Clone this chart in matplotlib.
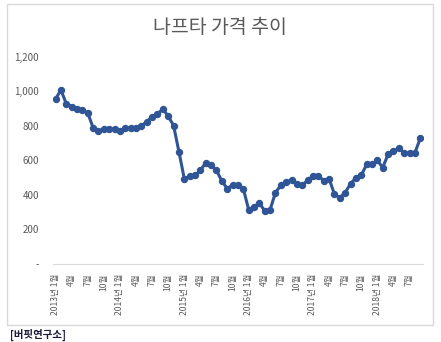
import matplotlib.pyplot as plt
from matplotlib.patches import Rectangle

plt.rcParams['font.family'] = ['Noto Sans CJK KR', 'DejaVu Sans']

# 월별 나프타 가격 (2013.01 ~ 2018.09)
years = [2013, 2014, 2015, 2016, 2017, 2018]
prices = [
    956, 1008, 927, 912, 900, 892, 875, 788, 769, 783, 783, 783,   # 2013
    771, 788, 788, 788, 800, 825, 852, 869, 898, 856, 802, 650,    # 2014
    494, 508, 513, 542, 587, 571, 542, 481, 437, 458, 458, 437,    # 2015
    315, 333, 352, 308, 315, 413, 456, 475, 485, 462, 456, 485,    # 2016
    510, 510, 483, 494, 404, 385, 413, 465, 500, 513, 577, 577,    # 2017
    600, 558, 635, 652, 671, 644, 644, 644, 727,                   # 2018
]
yticks = [0, 200, 400, 600, 800, 1000, 1200]
ytick_labels = ['-', '200', '400', '600', '800', '1,000', '1,200']

# 분기 첫 달마다 눈금 라벨
tick_pos = []
tick_labels = []
for i in range(0, len(prices), 3):
    month = i % 12 + 1
    if month == 1:
        tick_labels.append(f'{years[i // 12]}년 {month}월')
    else:
        tick_labels.append(f'{month}월')
    tick_pos.append(i)

fig = plt.figure(figsize=(4.41, 3.42), dpi=100)
ax = fig.add_axes([0.120, 0.228, 0.839, 0.606])

ax.plot(range(len(prices)), prices, color='#2F5597', linewidth=2.2,
        marker='o', markersize=4.3, markerfacecolor='#2F5597',
        markeredgecolor='#2F5597')

ax.set_xlim(-0.5, len(prices) - 0.5)
ax.set_ylim(0, 1200)
ax.set_yticks(yticks)
ax.set_yticklabels(ytick_labels)
ax.set_xticks(tick_pos)
ax.set_xticklabels(tick_labels, rotation=90, va='top', ha='center')

for side in ['top', 'right', 'left']:
    ax.spines[side].set_visible(False)
ax.spines['bottom'].set_color('#D9D9D9')
ax.tick_params(axis='both', length=0, colors='#595959')
ax.tick_params(axis='y', pad=10, labelsize=7)
ax.tick_params(axis='x', pad=7, labelsize=6.2)

fig.text(0.499, 0.92, '나프타 가격 추이', ha='center', va='center',
         fontsize=14, color='#595959')

fig.patches.append(Rectangle((0.016, 0.050), 0.966, 0.939,
                             transform=fig.transFigure, fill=False,
                             edgecolor='#D9D9D9', linewidth=1))

fig.text(0.022, 0.020, '[버핏연구소]', ha='left', va='center',
         fontsize=7.5, fontweight='bold', color='#1A1A3A')

fig.savefig('out.png', dpi=100)
